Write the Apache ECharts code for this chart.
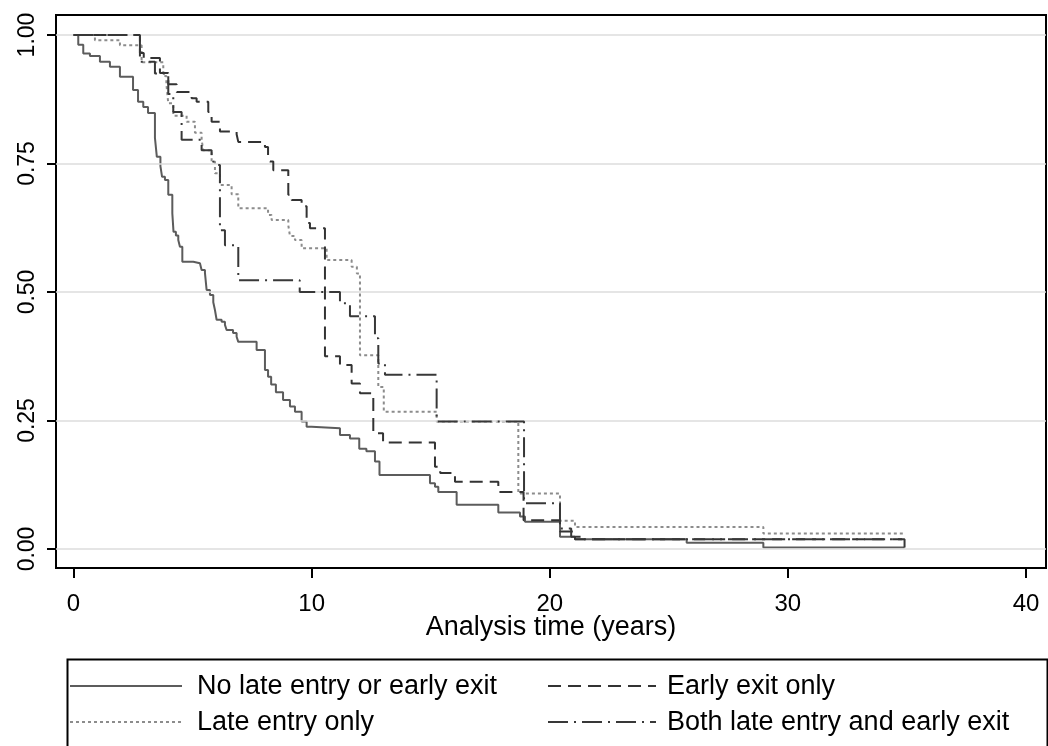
<!DOCTYPE html>
<html>
<head>
<meta charset="utf-8">
<script src="https://cdn.jsdelivr.net/npm/echarts@6/dist/echarts.min.js"></script>
<style>
html,body{margin:0;padding:0;background:#fff;}
#chart{width:1048px;height:746px;}
</style>
</head>
<body>
<div id="chart"></div>
<script>
// ---- data (time in years, survival probability) ----
const xTicks = [0, 10, 20, 30, 40];
const yTicks = [0, 0.25, 0.5, 0.75, 1];
const seriesNames = ['No late entry or early exit', 'Early exit only', 'Late entry only', 'Both late entry and early exit'];

const noLateOrEarly = [[0,1],[0.2,0.981],[0.41,0.964],[0.69,0.959],[1.11,0.948],[1.53,0.938],[1.95,0.919],[2.5,0.893],[2.71,0.870],[2.93,0.860],[3.13,0.848],[3.42,0.80],[3.5,0.763],[3.65,0.745],[3.72,0.724],[3.84,0.718],[3.98,0.689],[4.15,0.653],[4.2,0.617],[4.3,0.61],[4.4,0.601],[4.47,0.588],[4.57,0.559],[5.03,0.556],[5.31,0.553],[5.38,0.543],[5.52,0.537],[5.59,0.504],[5.73,0.494],[5.87,0.48],[5.94,0.465],[6.01,0.446],[6.22,0.442],[6.36,0.436],[6.43,0.426],[6.70,0.420],[6.85,0.413],[6.92,0.403],[7.69,0.387],[8.04,0.348],[8.17,0.335],[8.3,0.32],[8.5,0.305],[8.8,0.29],[9.09,0.277],[9.3,0.267],[9.58,0.248],[9.79,0.238],[10.0,0.235],[11.19,0.222],[11.61,0.215],[12.0,0.195],[12.3,0.19],[12.66,0.17],[12.85,0.144],[14.97,0.128],[15.18,0.121],[15.32,0.111],[16.09,0.086],[17.84,0.071],[18.75,0.063],[18.96,0.053],[20.43,0.024],[21.06,0.019],[25.75,0.012],[28.97,0.003],[34.9,0.003]];

const earlyExitOnly = [[0,1],[2.79,0.965],[2.95,0.955],[3.63,0.926],[3.98,0.904],[4.33,0.889],[4.96,0.877],[5.17,0.870],[5.66,0.85],[5.8,0.831],[6.15,0.812],[6.85,0.807],[6.92,0.792],[8.04,0.782],[8.17,0.76],[8.25,0.754],[8.39,0.737],[9.02,0.689],[9.16,0.679],[9.58,0.667],[9.79,0.634],[9.93,0.624],[10.56,0.375],[11.19,0.358],[11.68,0.322],[12.03,0.303],[12.59,0.225],[13.0,0.207],[15.18,0.16],[15.4,0.148],[16.02,0.131],[17.84,0.111],[18.9,0.056],[20.43,0.034],[21.06,0.019],[34.8,0.019]];

const lateEntryOnly = [[0,1],[0.9,0.99],[1.95,0.98],[2.86,0.947],[3.77,0.92],[3.9,0.905],[3.98,0.867],[4.19,0.843],[4.75,0.831],[5.1,0.81],[5.38,0.796],[5.45,0.776],[5.8,0.754],[5.94,0.731],[6.15,0.708],[6.64,0.69],[6.92,0.663],[8.17,0.65],[8.32,0.640],[9.02,0.63],[9.09,0.609],[9.3,0.601],[9.58,0.585],[10.63,0.562],[11.68,0.549],[11.9,0.536],[12.03,0.377],[12.8,0.315],[13.03,0.267],[15.25,0.248],[18.68,0.108],[20.43,0.055],[21.06,0.043],[28.97,0.030],[34.9,0.030]];

const bothLateAndEarly = [[0,1],[2.79,0.948],[3.42,0.925],[3.98,0.885],[4.19,0.85],[4.54,0.796],[5.38,0.776],[5.8,0.765],[5.87,0.754],[5.94,0.747],[6.15,0.62],[6.36,0.591],[6.92,0.523],[9.5,0.50],[11.19,0.478],[11.61,0.453],[12.66,0.41],[12.8,0.361],[13.08,0.339],[15.25,0.248],[18.92,0.089],[20.43,0.040],[20.9,0.024],[21.3,0.019],[34.9,0.019],[34.9,0.003]];

const FONT = "'Liberation Sans', Arial, sans-serif";
const STYLES = {
  'No late entry or early exit': {color: '#5c5c5c', dash: 'solid', z: 4},
  'Early exit only': {color: '#333333', dash: [13, 7], z: 5},
  'Late entry only': {color: '#8c8c8c', dash: [3, 3], z: 3},
  'Both late entry and early exit': {color: '#383838', dash: [20, 6, 2, 6], z: 6}
};
const chart = echarts.init(document.getElementById('chart'), null, {renderer: 'canvas'});

function kmSeries(name, data) {
  const s = STYLES[name];
  return {
    name: name, type: 'line', step: 'end', data: data,
    symbol: 'none', showSymbol: false, z: s.z,
    lineStyle: {color: s.color, width: 2, type: s.dash},
    itemStyle: {color: s.color},
    emphasis: {disabled: true},
    animation: false
  };
}

// legend drawn as graphic: two columns, two rows
const legendLayout = [
  {name: seriesNames[0], x1: 70, x2: 182, tx: 197, y: 686},
  {name: seriesNames[2], x1: 70, x2: 182, tx: 197, y: 722},
  {name: seriesNames[1], x1: 548, x2: 656, tx: 667, y: 686},
  {name: seriesNames[3], x1: 548, x2: 656, tx: 667, y: 722}
];
const legendGraphics = [];
legendLayout.forEach(function (it) {
  const s = STYLES[it.name];
  legendGraphics.push({type: 'line', silent: true, shape: {x1: it.x1, y1: it.y, x2: it.x2, y2: it.y},
    style: {stroke: s.color, lineWidth: 2, lineDash: s.dash === 'solid' ? null : s.dash}});
  legendGraphics.push({type: 'text', silent: true, x: it.tx, y: it.y + 1,
    style: {text: it.name, font: '27px ' + FONT, fill: '#000', verticalAlign: 'middle', align: 'left'}});
});

const option = {
  backgroundColor: '#fff',
  animation: false,
  textStyle: {fontFamily: FONT},
  grid: {left: 56, top: 15, right: 2, bottom: 178, show: true, borderColor: '#000', borderWidth: 2, containLabel: false},
  xAxis: {
    type: 'value', min: -0.735, max: 40.84,
    axisLine: {show: true, onZero: false, lineStyle: {color: '#000', width: 2}},
    axisTick: {show: true, length: 10, customValues: xTicks, lineStyle: {color: '#000', width: 2}},
    axisLabel: {customValues: xTicks, fontSize: 24, color: '#000', margin: 24, fontFamily: FONT},
    splitLine: {show: false},
    name: 'Analysis time (years)', nameLocation: 'middle', nameGap: 46, nameMoveOverlap: false,
    nameTextStyle: {fontSize: 27, color: '#000', fontFamily: FONT}
  },
  yAxis: {
    type: 'value', min: -0.037, max: 1.0389,
    axisLine: {show: true, onZero: false, lineStyle: {color: '#000', width: 2}},
    axisTick: {show: true, length: 9, customValues: yTicks, lineStyle: {color: '#000', width: 2}},
    axisLabel: {customValues: yTicks, fontSize: 23, color: '#000', rotate: 90, margin: 17, fontFamily: FONT,
      formatter: function (v) { return v.toFixed(2); }},
    splitLine: {show: false}
  },
  graphic: [
    {type: 'rect', left: 65, top: 657, shape: {width: 980, height: 100}, style: {fill: 'none', stroke: '#000', lineWidth: 2}, silent: true}
  ].concat(legendGraphics),
  series: [
    {type: 'line', data: [], silent: true, z: 1, symbol: 'none',
     markLine: {silent: true, symbol: ['none', 'none'], animation: false, label: {show: false},
       lineStyle: {color: '#dcdcdc', width: 1.5, type: 'solid'},
       data: yTicks.map(function (v) { return {yAxis: v}; })}},
    kmSeries(seriesNames[2], lateEntryOnly),
    kmSeries(seriesNames[0], noLateOrEarly),
    kmSeries(seriesNames[1], earlyExitOnly),
    kmSeries(seriesNames[3], bothLateAndEarly)
  ]
};
chart.setOption(option);
</script>
</body>
</html>
